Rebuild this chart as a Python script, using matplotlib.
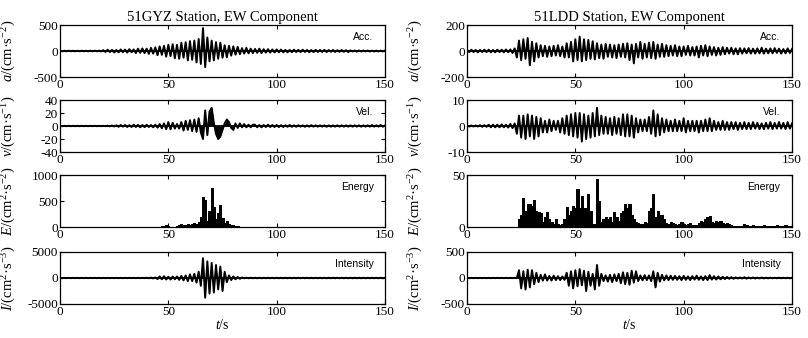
import numpy as np
import matplotlib
matplotlib.use("Agg")
import matplotlib.pyplot as plt

plt.rcParams['font.family'] = 'Liberation Serif'
plt.rcParams['mathtext.fontset'] = 'custom'
plt.rcParams['mathtext.rm'] = 'Liberation Serif'
plt.rcParams['mathtext.it'] = 'Liberation Serif:italic'
plt.rcParams['axes.unicode_minus'] = False

# time axis, one reading per second
t = np.arange(0, 151)

# 51GYZ station (peak values read per second)
gyz_acc = [5, -6, 5, -5, 6, -5, 5, -6, 5, -5,
           6, -5, 5, -6, 5, -6, 7, -6, 6, -8,
           15, -18, 25, -20, 22, -28, 20, -25, 30, -22,
           28, -30, 35, -25, 30, -40, 45, -35, 50, -40,
           45, -55, 60, -50, 70, -80, 90, -75, 100, -110,
           120, -100, 130, -140, 120, -150, 160, -130, 170, -180,
           190, -170, 200, -220, 230, -250, 440, -310, 260, -200,
           200, -180, 170, -150, 160, -130, 110, -120, 100, -90,
           90, -70, 80, -60, 55, -50, 60, -45, 45, -40,
           40, -35, 45, -40, 35, -30, 35, -30, 30, -28,
           30, -25, 28, -25, 22, -25, 20, -22, 25, -20,
           22, -20, 25, -18, 20, -22, 18, -20, 22, -18,
           20, -18, 22, -20, 18, -15, 20, -18, 15, -15,
           18, -15, 15, -20, 12, -10, 10, -12, 10, -8,
           10, -8, 9, -10, 8, -10, 8, -9, 8, -8,
           8]

gyz_vel = [0.3, -0.3, 0.3, -0.3, 0.3, -0.3, 0.3, -0.3, 0.3, -0.3,
           0.3, -0.3, 0.3, -0.3, 0.3, -0.3, 0.3, -0.3, 0.3, -0.3,
           0.3, -0.3, 0.5, -0.5, 0.8, -0.8, 1, -1.2, 1.5, -1,
           1.5, -1.5, 1.2, -1.5, 2, -1.5, 1.8, -2, 1.5, -1.8,
           2, -1.5, 1.5, -2, 2, -2.5, 3, -3.5, 4, -5,
           6, -5, 5, -4, 3, -4, 6, -7, 8, -6,
           9, -8, 10, -9, 12, -10, -20, 24, -14, 22,
           28, 5, -12, -20, -16, -6, 4, 10, 6, -3,
           -6, 4, -3, 4, -2, 3, -2, 2, -2, 2,
           2, -2, 1.5, -2, 1.5, -1.5, 2, -1.5, 1.5, -1.5,
           1.5, -1.5, 1.2, -1.5, 1.2, -1.2, 1.5, -1.2, 1, -1.2,
           1.2, -1, 1, -1.2, 1, -1, 1.2, -1, 1, -1,
           1, -1, 1, -1.2, 1, -1, 1, -1, 1, -1,
           1, -1, 1, -1, 1, -1, 1, -1, 1, -1,
           1, -1, 1, -1, 1.5, -1, 1, -1, 1.5, -1,
           1]

gyz_energy = [0] * 45 + [
    2, 5, 10, 20, 35,
    15, 5, 3, 8, 15,
    40, 50, 35, 45, 55,
    40, 60, 70, 50, 100,
    200, 580, 520, 120, 300,
    750, 380, 150, 260, 420,
    180, 70, 110, 50, 40,
    30, 20, 10, 8, 5] + [0] * 66

gyz_int = [30, -30] * 20 + [
    50, -50, 80, -80, 100,
    -200, 300, -250, 350, -300,
    250, -300, 280, -250, 300,
    -350, 400, -450, 500, -600,
    700, -600, 800, -900, 1200,
    -1500, 3800, -3800, 3200, -3000,
    2900, -2800, 2500, -2200, 2200,
    -2500, 1200, -800, 500, -400,
    300, -250, 200, -150, 100] + [-50, 50] * 33

# 51LDD station
ldd_acc = [8, -8, 10, -8, 8, -10, 8, -8, 10, -8,
           10, -10, 8, -10, 10, -8, 10, -10, 12, -10,
           12, -15, 20, -50, 80, -70, 90, -60, 100, -110,
           70, -80, 60, -50, 45, -40, 40, -45, 35, -40,
           40, -35, 45, -40, 35, -50, 60, -50, 70, -80,
           90, -70, 110, -80, 90, -70, 85, -60, 75, -65,
           60, -55, 50, -60, 55, -45, 50, -50, 45, -55,
           50, -45, 55, -50, 60, -70, 50, -95, 55, -50,
           70, -60, 55, -50, 65, -55, 70, -60, 50, -45,
           55, -45, 45, -40, 40, -35, 45, -40, 35, -40,
           35, -30, 40, -35, 30, -35, 35, -50, 40, -35,
           45, -40, 35, -30, 30, -35, 25, -30, 30, -25,
           25, -20, 25, -25, 20, -25, 22, -20, 20, -18,
           22, -20, 18, -20, 20, -18, 25, -20, 18, -18,
           20, -18, 22, -15, 18, -20, 15, -18, 20, -15,
           15]

ldd_vel = [0.2, -0.2, 0.2, -0.2, 0.2, -0.2, 0.3, -0.3, 0.3, -0.3,
           0.5, -0.5, 0.5, -0.5, 0.5, -0.5, 0.6, -0.5, 0.5, -0.6,
           0.8, -0.8, 1, -3, 4, -4.5, 4, -5, 4.5, -4,
           4, -5, 3.5, -4, 3, -2.5, 2, -2.5, 2.5, -2,
           2, -1.5, 2, -2.5, 3, -3, 4, -3.5, 4.5, -4,
           5, -4.5, 5, -6, 4.5, -5, 4, -4.5, 5, -4,
           7, -3.5, 4, -3, 3.5, -3, 3, -3.5, 3.5, -3,
           3, -3.5, 4.5, -4, 4.5, -4, 4, -4.5, 3, -2.5,
           2.5, -2, 2.5, -2, 3.5, -3, 6, -4, 4.5, -3.5,
           3, -2.5, 2.5, -2, 2, -2, 2.5, -2, 2, -2,
           3, -2.5, 2, -2, 2, -2, 2, -2.5, 2, -2,
           2.5, -2, 3, -2, 2, -1.5, 1.5, -1.5, 2, -1.5,
           1.5, -1.5, 1.5, -1.2, 1.5, -1.5, 1.2, -1.2, 1.5, -1.2,
           1.2, -1.2, 1.5, -1, 1.2, -1.2, 1, -1.2, 1.2, -1,
           1.5, -1.2, 1.2, -1, 1.5, -1, 1.2, -1.2, 1.5, -1,
           1]

ldd_energy = [0] * 24 + [
    8, 12, 28, 15, 22, 22,
    20, 26, 15, 14, 13, 5, 10, 14, 8, 5,
    3, 8, 3, 2, 3, 8, 19, 12, 15, 20,
    18, 37, 18, 30, 18, 18, 32, 15, 3, 3,
    46, 25, 5, 8, 10, 8, 10, 5, 14, 10,
    6, 13, 15, 22, 18, 22, 12, 8, 5, 4,
    3, 3, 5, 4, 15, 18, 32, 10, 15, 12,
    12, 8, 4, 3, 5, 4, 3, 2, 3, 5,
    3, 2, 3, 4, 2, 2, 2, 4, 6, 5,
    8, 10, 11, 5, 4, 6, 5, 6, 4, 3,
    4, 3, 2, 1, 1, 1, 1, 1, 3, 2,
    1, 1, 2, 1, 1, 1, 1, 2, 1, 1,
    1, 1, 1, 2, 1, 1, 1, 2, 1, 1,
    1]

ldd_int = [3, -3] * 12 + [
    150, -200, 130, -220, 160, -180,
    150, -120, 100, -80, 60, -50, 70, -50, 40, -50,
    45, -40, 35, -40, 30, -35, 100, -150, 130, -200,
    150, -160, 170, -140, 140, -250, 120, -150, 80, -220,
    250, -150, 80, -60, 50, -70, 60, -80, 70, -60,
    80, -100, 110, -120, 100, -130, 140, -90, 130, -60,
    50, -45, 55, -40, 50, -60, 130, -180, 100, -70,
    60, -45, 50, -40, 45, -35, 40, -35, 35, -40,
    40, -35, 30, -40, 35, -30, 45, -35, 30, -40,
    35, -40, 55, -30, 35, -30, 30, -25, 25, -20,
    20, -15, 15, -15, 12, -10, 10, -10, 15, -12,
    10, -8, 10, -10, 8, -8, 10, -8, 6, -6,
    6, -6, 5, -5, 6, -5, 5, -5, 5, -5,
    5]

titles = ['51GYZ Station, EW Component', '51LDD Station, EW Component']
tags = ['Acc.', 'Vel.', 'Energy', 'Intensity']
ylabels = [r'$a$/(cm·s$^{-2}$)', r'$v$/(cm·s$^{-1}$)',
           r'$E$/(cm$^{2}$·s$^{-2}$)', r'$I$/(cm$^{2}$·s$^{-3}$)']

columns = [
    [gyz_acc, gyz_vel, gyz_energy, gyz_int],
    [ldd_acc, ldd_vel, ldd_energy, ldd_int],
]
yticks = [
    [[-500, 0, 500], [-40, -20, 0, 20, 40], [0, 500, 1000], [-5000, 0, 5000]],
    [[-200, 0, 200], [-10, 0, 10], [0, 50], [-500, 0, 500]],
]

fig = plt.figure(figsize=(8.08, 3.38), dpi=100)

lefts = [60 / 808, 467 / 808]
width = 325 / 808
tops = [25, 100, 175, 252]
height = 52 / 338

for c in range(2):
    for r in range(4):
        bottom = 1 - (tops[r] + 52) / 338
        ax = fig.add_axes([lefts[c], bottom, width, height])
        y = np.array(columns[c][r], dtype=float)
        if r == 2:
            ax.fill_between(t, 0, y, step='mid', color='k', lw=0.6)
            ax.plot(t, y, 'k-', lw=0.6, drawstyle='steps-mid')
        else:
            # filled to zero so the trace reads as a dense record
            ax.fill_between(t, 0, y, color='k', lw=0)
            ax.plot(t, y, 'k-', lw=1.4)
            ax.axhline(0, color='k', lw=1.3)
        ax.set_xlim(0, 150)
        yt = yticks[c][r]
        ax.set_ylim(yt[0], yt[-1])
        ax.set_yticks(yt)
        ax.set_xticks([0, 50, 100, 150])
        ax.tick_params(direction='in', top=True, right=True, length=3,
                       labelsize=9.5, pad=1.5)
        for sp in ax.spines.values():
            sp.set_linewidth(0.9)
        ax.set_ylabel(ylabels[r], fontsize=10.5, labelpad=1)
        ax.yaxis.set_label_coords(-0.13, 0.5)
        ax.text(0.965, 0.76, tags[r], transform=ax.transAxes, ha='right',
                va='center', fontsize=7.5, family='Liberation Sans')
        if r == 0:
            ax.set_title(titles[c], fontsize=10.5, pad=3)
        if r == 3:
            ax.set_xlabel(r'$t$/s', fontsize=10, labelpad=0)

fig.savefig('out.png', dpi=100)
